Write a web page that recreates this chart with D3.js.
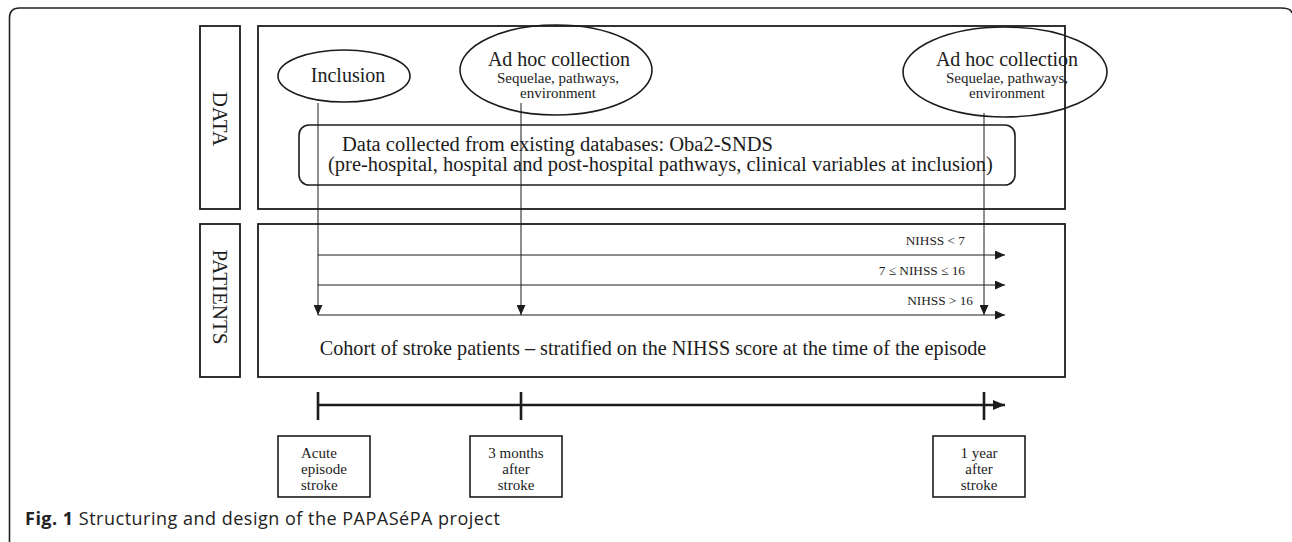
<!DOCTYPE html>
<html>
<head>
<meta charset="utf-8">
<script src="https://cdn.jsdelivr.net/npm/d3@7"></script>
<style>
  body { margin: 0; background: #fff; }
  svg { display: block; }
</style>
</head>
<body>
<script>

// Data of the figure
const rowLabels = ["DATA", "PATIENTS"];
const collections = ["Inclusion", "Ad hoc collection", "Ad hoc collection"];
const collectionDetail = [[], ["Sequelae, pathways,", "environment"], ["Sequelae, pathways,", "environment"]];
const timeMonths = [0, 3, 12];
const timepoints = [["Acute", "episode", "stroke"], ["3 months", "after", "stroke"], ["1 year", "after", "stroke"]];
const strata = ["NIHSS < 7", "7 ≤ NIHSS ≤ 16", "NIHSS > 16"];
const dbLines = ["Data collected from existing databases: Oba2-SNDS",
                 "(pre-hospital, hospital and post-hospital pathways, clinical variables at inclusion)"];
const cohortText = "Cohort of stroke patients \u2013 stratified on the NIHSS score at the time of the episode";
const captionBold = "Fig. 1";
const captionText = " Structuring and design of the PAPASéPA project";

const w = 1292, h = 542;
const serif = "'Liberation Serif', 'Times New Roman', serif";
const ink = "#1c1c1c";

// time axis: months -> x (not linear in the figure, so piecewise)
const x = d3.scaleLinear().domain(timeMonths).range([318, 521, 984]);
// strata rows
const y = d3.scalePoint().domain(strata).range([255, 315]);

// ellipse shapes (layout only)
const ellipses = [
  {cx: 344, cy: 76, rx: 66, ry: 26, tx: 348, lineTop: 103},
  {cx: 556, cy: 70, rx: 96, ry: 45, tx: 559, lineTop: 103},
  {cx: 1005, cy: 72, rx: 102, ry: 45, tx: 1007, lineTop: 113}
];

const svg = d3.select("body").append("svg").attr("width", w).attr("height", h);

const defs = svg.append("defs");
function marker(id, len, half) {
  defs.append("marker")
    .attr("id", id)
    .attr("markerUnits", "userSpaceOnUse")
    .attr("viewBox", `0 ${-half} ${len} ${half * 2}`)
    .attr("refX", len).attr("refY", 0)
    .attr("markerWidth", len).attr("markerHeight", half * 2)
    .attr("orient", "auto")
    .append("path")
    .attr("d", `M0,${-half}L${len},0L0,${half}Z`)
    .attr("fill", ink);
}
marker("arr", 10, 4.5);
marker("arrBig", 12, 5);

// outer figure frame (left, top and top-right corner)
svg.append("path")
  .attr("d", "M9.5,545 L9.5,18 Q9.5,8 19.5,8 L1281,8 Q1291,8 1292,13")
  .attr("fill", "none").attr("stroke", "#222").attr("stroke-width", 1.6);

// row label boxes
const rowBoxes = [{y0: 26, y1: 209}, {y0: 224, y1: 377}];
svg.selectAll(".rowlab").data(rowLabels).enter().append("rect")
  .attr("x", 200).attr("width", 40)
  .attr("y", (d, i) => rowBoxes[i].y0)
  .attr("height", (d, i) => rowBoxes[i].y1 - rowBoxes[i].y0)
  .attr("fill", "none").attr("stroke", ink).attr("stroke-width", 1.8);

svg.selectAll(".rowtxt").data(rowLabels).enter().append("text")
  .attr("transform", (d, i) => `translate(220,${i === 0 ? 119 : 297}) rotate(90)`)
  .attr("text-anchor", "middle")
  .attr("dominant-baseline", "central")
  .attr("font-family", serif).attr("font-size", 21).attr("fill", ink)
  .text(d => d);

// main boxes
svg.selectAll(".mainbox").data(rowBoxes).enter().append("rect")
  .attr("x", 258).attr("width", 807)
  .attr("y", d => d.y0).attr("height", d => d.y1 - d.y0)
  .attr("fill", "none").attr("stroke", ink).attr("stroke-width", 1.8);

// database box
svg.append("rect")
  .attr("x", 299).attr("y", 125).attr("width", 716).attr("height", 60)
  .attr("rx", 10)
  .attr("fill", "none").attr("stroke", ink).attr("stroke-width", 1.6);

svg.selectAll(".db").data(dbLines).enter().append("text")
  .attr("x", (d, i) => i === 0 ? 342 : 328)
  .attr("y", (d, i) => 151 + i * 20)
  .attr("font-family", serif).attr("font-size", 20.5).attr("fill", ink)
  .text(d => d);

// vertical arrows from collections down to the cohort
svg.selectAll(".vline").data(timeMonths).enter().append("line")
  .attr("x1", d => x(d)).attr("x2", d => x(d))
  .attr("y1", (d, i) => ellipses[i].lineTop)
  .attr("y2", y(strata[strata.length - 1]))
  .attr("stroke", ink).attr("stroke-width", 1)
  .attr("marker-end", "url(#arr)");

// ellipses
svg.selectAll(".ell").data(ellipses).enter().append("ellipse")
  .attr("cx", d => d.cx).attr("cy", d => d.cy)
  .attr("rx", d => d.rx).attr("ry", d => d.ry)
  .attr("fill", "none").attr("stroke", ink).attr("stroke-width", 1.6);

svg.selectAll(".colltxt").data(collections).enter().append("text")
  .attr("x", (d, i) => ellipses[i].tx)
  .attr("y", (d, i) => collectionDetail[i].length ? 66 : 82)
  .attr("text-anchor", "middle")
  .attr("font-family", serif).attr("font-size", 20).attr("fill", ink)
  .text(d => d);

collectionDetail.forEach((lines, i) => {
  svg.selectAll(".det" + i).data(lines).enter().append("text")
    .attr("x", ellipses[i].cx + 2)
    .attr("y", (d, j) => 83 + j * 14.5)
    .attr("text-anchor", "middle")
    .attr("font-family", serif).attr("font-size", 15).attr("fill", ink)
    .text(d => d);
});

// strata arrows
svg.selectAll(".stratum").data(strata).enter().append("line")
  .attr("x1", x(0)).attr("x2", 1005)
  .attr("y1", d => y(d)).attr("y2", d => y(d))
  .attr("stroke", ink).attr("stroke-width", 1)
  .attr("marker-end", "url(#arr)");

svg.selectAll(".stratlab").data(strata).enter().append("text")
  .attr("x", (d, i) => i === 2 ? 973 : 965)
  .attr("y", d => y(d) - 10)
  .attr("text-anchor", "end")
  .attr("font-family", serif).attr("font-size", 13.3).attr("fill", ink)
  .text(d => d);

svg.append("text")
  .attr("x", 653).attr("y", 355)
  .attr("text-anchor", "middle")
  .attr("font-family", serif).attr("font-size", 20.2).attr("fill", ink)
  .text(cohortText);

// timeline
svg.append("line")
  .attr("x1", x(0)).attr("x2", 1005).attr("y1", 405).attr("y2", 405)
  .attr("stroke", ink).attr("stroke-width", 2.6)
  .attr("marker-end", "url(#arrBig)");

svg.selectAll(".tick").data(timeMonths).enter().append("line")
  .attr("x1", d => x(d)).attr("x2", d => x(d))
  .attr("y1", 392).attr("y2", 420)
  .attr("stroke", ink).attr("stroke-width", 2.6);

// timepoint boxes
const bw = 92;
const boxLeft = (d, i) => x(d) - (i === 0 ? 40 : 51);
svg.selectAll(".tbox").data(timeMonths).enter().append("rect")
  .attr("x", boxLeft)
  .attr("y", 436).attr("width", bw).attr("height", 61)
  .attr("fill", "none").attr("stroke", ink).attr("stroke-width", 1.6);

timepoints.forEach((lines, i) => {
  const bx = boxLeft(timeMonths[i], i);
  svg.selectAll(".tp" + i).data(lines).enter().append("text")
    .attr("x", i === 0 ? bx + 23 : bx + bw / 2)
    .attr("y", (d, j) => 458 + j * 16)
    .attr("text-anchor", i === 0 ? "start" : "middle")
    .attr("font-family", serif).attr("font-size", 15).attr("fill", ink)
    .text(d => d);
});

// caption
const cap = svg.append("text")
  .attr("x", 25).attr("y", 525)
  .attr("font-family", "'Open Sans', 'Noto Sans', sans-serif")
  .attr("font-size", 18).attr("letter-spacing", 0.5).attr("fill", "#222");
cap.append("tspan").attr("font-weight", "bold").text(captionBold);
cap.append("tspan").text(captionText);

</script>
</body>
</html>
